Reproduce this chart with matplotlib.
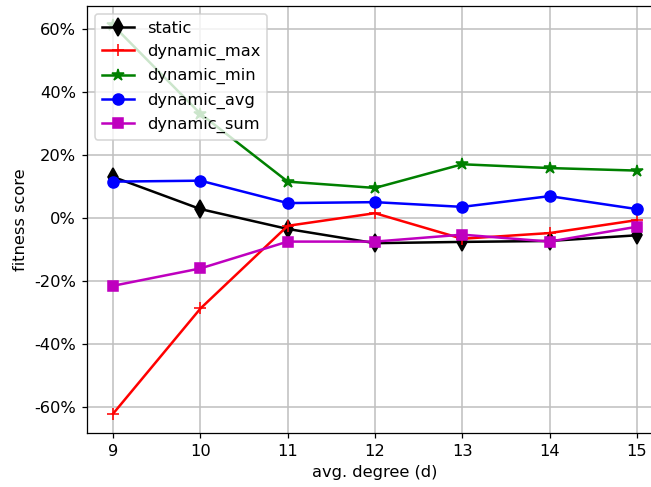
import matplotlib
matplotlib.use("Agg")
import matplotlib.pyplot as plt
from matplotlib.ticker import FuncFormatter

# avg. degree values on the x axis
degrees = [9, 10, 11, 12, 13, 14, 15]

# fitness scores in percent
static = [13.0, 2.8, -3.5, -8.0, -7.6, -7.3, -5.5]
dynamic_max = [-62.0, -28.7, -2.5, 1.5, -6.6, -4.8, -0.7]
dynamic_min = [61.0, 33.0, 11.5, 9.5, 17.0, 15.8, 15.0]
dynamic_avg = [11.5, 11.8, 4.7, 5.0, 3.5, 6.9, 2.8]
dynamic_sum = [-21.5, -16.0, -7.5, -7.5, -5.3, -7.5, -2.8]

plt.rcParams["font.size"] = 10.4
plt.rcParams["lines.linewidth"] = 1.6

dpi = 113
fig = plt.figure(figsize=(651 / dpi, 487 / dpi), dpi=dpi)
# axes extend past the right edge, as in the cropped original
ax = fig.add_axes([87 / 651, 54 / 487, 576 / 651, 427 / 487])

ax.plot(degrees, static, color="k", marker="d", markersize=8, label="static")
ax.plot(degrees, dynamic_max, color="r", marker="+", markersize=8, label="dynamic_max")
ax.plot(degrees, dynamic_min, color="g", marker="*", markersize=8, label="dynamic_min")
ax.plot(degrees, dynamic_avg, color="b", marker="o", markersize=7, label="dynamic_avg")
ax.plot(degrees, dynamic_sum, color="m", marker="s", markersize=7, label="dynamic_sum")

ax.set_xlim(8.7, 15.3)
ax.yaxis.set_major_formatter(FuncFormatter(lambda v, p: f"{v:.0f}%"))
ax.grid(True, color="#c0c0c0", linewidth=1.0)
ax.set_xlabel("avg. degree (d)")
ax.set_ylabel("fitness score")
ax.legend(loc="upper left")

fig.savefig("out.png", dpi=dpi)
